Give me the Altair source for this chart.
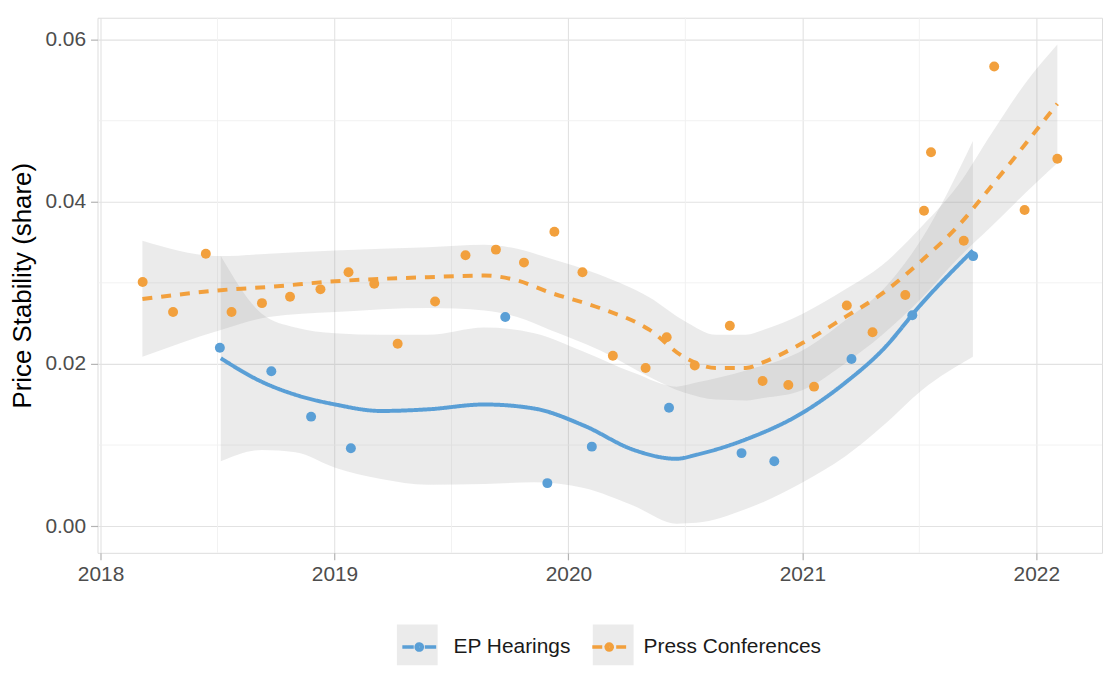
import altair as alt
import pandas as pd

SERIES = ["EP Hearings", "Press Conferences"]
COLORS = ["#5A9FD6", "#F2A03D"]

# observed points
ep_x = [2018.51, 2018.73, 2018.90, 2019.07, 2019.73, 2019.91, 2020.10, 2020.43,
        2020.74, 2020.88, 2021.21, 2021.47, 2021.73]
ep_y = [0.0220, 0.0191, 0.0135, 0.0096, 0.0258, 0.0053, 0.0098, 0.0146,
        0.0090, 0.0080, 0.0206, 0.0260, 0.0333]

pc_x = [2018.18, 2018.31, 2018.45, 2018.56, 2018.69, 2018.81, 2018.94, 2019.06,
        2019.17, 2019.27, 2019.43, 2019.56, 2019.69, 2019.81, 2019.94, 2020.06,
        2020.19, 2020.33, 2020.42, 2020.54, 2020.69, 2020.83, 2020.94, 2021.05,
        2021.19, 2021.30, 2021.44, 2021.52, 2021.55, 2021.69, 2021.82, 2021.95,
        2022.09]
pc_y = [0.0301, 0.0264, 0.0336, 0.0264, 0.0275, 0.0283, 0.0292, 0.0313,
        0.0299, 0.0225, 0.0277, 0.0334, 0.0341, 0.0325, 0.0363, 0.0313,
        0.0210, 0.0195, 0.0233, 0.0198, 0.0247, 0.0179, 0.0174, 0.0172,
        0.0272, 0.0239, 0.0285, 0.0389, 0.0461, 0.0352, 0.0567, 0.0390,
        0.0453]

# smoothed fits with confidence bands
ep_fit_x = [2018.514, 2018.689, 2018.833, 2019.003, 2019.199, 2019.399, 2019.641,
            2019.854, 2020.066, 2020.279, 2020.462, 2020.547, 2020.759, 2021.002,
            2021.184, 2021.342, 2021.512, 2021.729]
ep_fit = [0.0207, 0.0178, 0.0162, 0.0150, 0.0142, 0.0144, 0.0150,
          0.0145, 0.0124, 0.0094, 0.0083, 0.0088, 0.0107, 0.0140,
          0.0177, 0.0217, 0.0275, 0.0340]
ep_lo = [0.0080, 0.0094, 0.0091, 0.0072, 0.0058, 0.0051, 0.0052,
         0.0054, 0.0047, 0.0025, 0.0003, 0.0004, 0.0021, 0.0054,
         0.0086, 0.0123, 0.0168, 0.0209]
ep_hi = [0.0333, 0.0262, 0.0245, 0.0238, 0.0236, 0.0236, 0.0245,
         0.0238, 0.0215, 0.0189, 0.0172, 0.0177, 0.0192, 0.0217,
         0.0254, 0.0291, 0.0355, 0.0475]

pc_fit_x = [2018.179, 2018.514, 2018.719, 2019.003, 2019.399, 2019.641, 2019.781,
            2019.922, 2020.134, 2020.347, 2020.491, 2020.632, 2020.759, 2020.832,
            2021.002, 2021.184, 2021.342, 2021.512, 2021.665, 2021.810, 2021.950,
            2022.090]
pc_fit = [0.0280, 0.0291, 0.0295, 0.0302, 0.0307, 0.0309, 0.0303,
          0.0288, 0.0269, 0.0242, 0.0209, 0.0195, 0.0195, 0.0202,
          0.0226, 0.0258, 0.0287, 0.0328, 0.0370, 0.0420, 0.0470,
          0.0521]
pc_lo = [0.0209, 0.0242, 0.0258, 0.0264, 0.0269, 0.0266, 0.0258,
         0.0242, 0.0217, 0.0184, 0.0165, 0.0156, 0.0155, 0.0158,
         0.0168, 0.0201, 0.0236, 0.0282, 0.0330, 0.0370, 0.0410,
         0.0448]
pc_hi = [0.0352, 0.0333, 0.0336, 0.0340, 0.0344, 0.0347, 0.0342,
         0.0330, 0.0310, 0.0282, 0.0254, 0.0236, 0.0236, 0.0242,
         0.0262, 0.0292, 0.0322, 0.0370, 0.0420, 0.0485, 0.0545,
         0.0594]

x_ticks = [2018, 2019, 2020, 2021, 2022]
y_ticks = [0.00, 0.02, 0.04, 0.06]
x_minor = [2018.5, 2019.5, 2020.5, 2021.5]
y_minor = [0.01, 0.03, 0.05]
x_domain = [2017.987, 2022.281]
y_domain = [-0.0033, 0.0627]

points = pd.DataFrame(
    {"x": ep_x + pc_x,
     "y": ep_y + pc_y,
     "series": [SERIES[0]] * len(ep_x) + [SERIES[1]] * len(pc_x)}
)
fits = pd.DataFrame(
    {"x": ep_fit_x + pc_fit_x,
     "fit": ep_fit + pc_fit,
     "lo": ep_lo + pc_lo,
     "hi": ep_hi + pc_hi,
     "series": [SERIES[0]] * len(ep_fit_x) + [SERIES[1]] * len(pc_fit_x)}
)
minor_x = pd.DataFrame({"x": x_minor})
minor_y = pd.DataFrame({"y": y_minor})

FONT = "Liberation Sans"
xs = alt.Scale(domain=x_domain, nice=False, zero=False)
ys = alt.Scale(domain=y_domain, nice=False, zero=False)

x_axis = alt.Axis(values=x_ticks, format="d", title=None, domain=False,
                  labelFontSize=21, labelColor="#4D4D4D", labelFont=FONT,
                  labelPadding=4, tickSize=7, tickColor="#B3B3B3", tickWidth=1.2,
                  gridColor="#E2E2E2", gridWidth=1.1)
y_axis = alt.Axis(values=y_ticks, format=".2f", title="Price Stability (share)",
                  domain=False, labelFontSize=21, labelColor="#4D4D4D",
                  labelFont=FONT, labelPadding=5, tickSize=7, tickColor="#B3B3B3",
                  tickWidth=1.2, gridColor="#E2E2E2", gridWidth=1.1,
                  titleFontSize=26, titleFontWeight="normal", titleColor="#000000",
                  titleFont=FONT, titlePadding=9)

X = alt.X("x:Q", scale=xs, axis=x_axis)

LEG = dict(orient="none", legendX=301, legendY=610, direction="horizontal",
           title=None, labelFontSize=21, labelFont=FONT, labelColor="#1A1A1A",
           labelLimit=500, symbolSize=1681, labelOffset=12, padding=0)

# line segments on both sides of a dot (dot made of stroked small circles)
LINE_PATH = ("M-0.83,0L-0.27,0M0.83,0L0.27,0"
             "M0.15,0A0.15,0.15,0,1,1,-0.15,0A0.15,0.15,0,1,1,0.15,0"
             "M-0.15,0A0.15,0.15,0,1,1,0.15,0A0.15,0.15,0,1,1,-0.15,0"
             "M0.07,0A0.07,0.07,0,1,1,-0.07,0A0.07,0.07,0,1,1,0.07,0")

minor_v = alt.Chart(minor_x).mark_rule(color="#F1F1F1", strokeWidth=0.9).encode(x=X)
minor_h = alt.Chart(minor_y).mark_rule(color="#F1F1F1", strokeWidth=0.9).encode(
    y=alt.Y("y:Q", scale=ys, axis=y_axis))

bands = alt.Chart(fits).mark_area(color="#999999", opacity=0.2,
                                  interpolate="monotone").encode(
    x=X,
    y=alt.Y("lo:Q", scale=ys, axis=y_axis),
    y2="hi:Q",
    detail="series:N",
)

line_leg = alt.Legend(symbolType=LINE_PATH, symbolStrokeWidth=3.5,
                      columnPadding=14, zindex=1, **LEG)
lines = alt.Chart(fits).mark_line(strokeWidth=4, interpolate="monotone").encode(
    x=X,
    y=alt.Y("fit:Q", scale=ys, axis=y_axis),
    color=alt.Color("series:N", scale=alt.Scale(domain=SERIES, range=COLORS),
                    legend=line_leg),
    strokeDash=alt.StrokeDash("series:N",
                              scale=alt.Scale(domain=SERIES, range=[[1, 0], [10, 9]]),
                              legend=line_leg),
)

dots = alt.Chart(points).mark_circle(size=100, opacity=1).encode(
    x=X,
    y=alt.Y("y:Q", scale=ys, axis=y_axis),
    color=alt.Color("series:N", scale=alt.Scale(domain=SERIES, range=COLORS),
                    legend=None),
)

keys = alt.Chart(points).transform_filter("false").mark_point(
    filled=True, color="#EBEBEB").encode(
    x=X,
    y=alt.Y("y:Q", scale=ys, axis=y_axis),
    shape=alt.Shape("series:N",
                    scale=alt.Scale(domain=SERIES, range=["square", "square"]),
                    legend=alt.Legend(symbolFillColor="#EBEBEB",
                                      symbolStrokeColor="#EBEBEB",
                                      symbolStrokeWidth=0, symbolOpacity=1,
                                      labelExpr="''", columnPadding=144,
                                      zindex=0, **LEG)),
)

chart = alt.layer(minor_v, minor_h, bands, lines, dots, keys).resolve_scale(
    color="independent", strokeDash="independent", shape="independent"
).properties(
    width=1010, height=538,
    autosize=alt.AutoSizeParams(type="none"),
    padding={"left": 90, "top": 8, "right": 5, "bottom": 120},
).configure_view(
    stroke="#B3B3B3", strokeWidth=1.3
).configure(background="white")

chart.save("out.html", embed_options={"renderer": "svg", "actions": False})
